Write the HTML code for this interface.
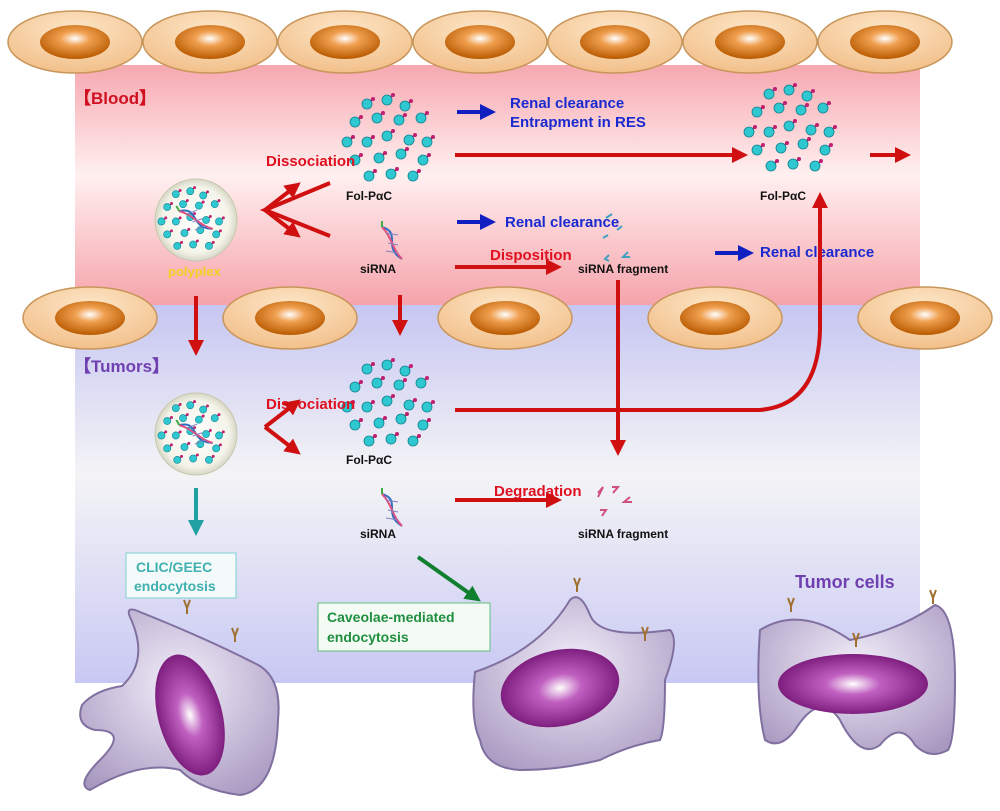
<!DOCTYPE html>
<html><head><meta charset="utf-8"><style>
html,body{margin:0;padding:0;background:#fff}
svg{display:block}
text{font-family:"Liberation Sans",Arial,sans-serif;font-weight:bold}
</style></head><body>
<svg width="1000" height="811" viewBox="0 0 1000 811" xmlns="http://www.w3.org/2000/svg">
<defs>
<linearGradient id="blood" x1="0" y1="0" x2="0" y2="1">
<stop offset="0" stop-color="#f6a8b0"/><stop offset="0.45" stop-color="#fff0f0"/><stop offset="1" stop-color="#f5a0a8"/></linearGradient>
<linearGradient id="tum" x1="0" y1="0" x2="0" y2="1">
<stop offset="0" stop-color="#c6c6f2"/><stop offset="0.45" stop-color="#f4f4f6"/><stop offset="1" stop-color="#c8c8f4"/></linearGradient>
<radialGradient id="nuc" cx="0.5" cy="0.4" r="0.6"><stop offset="0" stop-color="#fff"/><stop offset="0.35" stop-color="#f0a050"/><stop offset="1" stop-color="#b85a00"/></radialGradient>
<radialGradient id="cellb" cx="0.5" cy="0.3" r="0.7"><stop offset="0" stop-color="#fde6c8"/><stop offset="1" stop-color="#f2c08a"/></radialGradient>
<radialGradient id="pn" cx="0.5" cy="0.5" r="0.6"><stop offset="0" stop-color="#fff"/><stop offset="0.3" stop-color="#c060c0"/><stop offset="1" stop-color="#6a0a6a"/></radialGradient>
<radialGradient id="tc" cx="0.5" cy="0.4" r="0.7"><stop offset="0" stop-color="#f2eefa"/><stop offset="1" stop-color="#a898c0"/></radialGradient>
<radialGradient id="pp" cx="0.5" cy="0.5" r="0.5"><stop offset="0" stop-color="#fff"/><stop offset="0.8" stop-color="#f4f4ea"/><stop offset="1" stop-color="#d8d8c8"/></radialGradient>
<g id="cellU"><ellipse cx="0" cy="0" rx="67" ry="31" fill="url(#cellb)" stroke="#c8955a" stroke-width="1.5"/><ellipse cx="0" cy="0" rx="35" ry="17" fill="url(#nuc)"/></g>
<g id="pt"><line x1="0" y1="0" x2="6" y2="-5" stroke="#b02060" stroke-width="2"/><circle cx="6" cy="-5" r="2" fill="#c02070"/><circle cx="0" cy="0" r="5" fill="#30c8d0" stroke="#108090" stroke-width="0.8"/></g>
<g id="cl">
<use href="#pt" x="-28" y="-36"/><use href="#pt" x="-8" y="-40"/><use href="#pt" x="10" y="-34"/><use href="#pt" x="-40" y="-18"/>
<use href="#pt" x="-18" y="-22"/><use href="#pt" x="4" y="-20"/><use href="#pt" x="26" y="-22"/><use href="#pt" x="-48" y="2"/>
<use href="#pt" x="-28" y="2"/><use href="#pt" x="-8" y="-4"/><use href="#pt" x="14" y="0"/><use href="#pt" x="32" y="2"/>
<use href="#pt" x="-40" y="20"/><use href="#pt" x="-16" y="18"/><use href="#pt" x="6" y="14"/><use href="#pt" x="28" y="20"/>
<use href="#pt" x="-26" y="36"/><use href="#pt" x="-4" y="34"/><use href="#pt" x="18" y="36"/>
</g>
<g id="dna"><path d="M-10,-16 C10,-10 -10,4 10,16" stroke="#3070c0" stroke-width="2" fill="none"/><path d="M-10,-16 C0,-6 0,6 10,16" stroke="#e05080" stroke-width="2" fill="none"/><path d="M-6,-10 L6,-8 M-4,0 L6,2 M-6,8 L6,10" stroke="#8080c0" stroke-width="1"/><line x1="-10" y1="-16" x2="-10" y2="-22" stroke="#4a4" stroke-width="2"/></g>
<g id="poly"><circle r="41" fill="url(#pp)" stroke="#c8c8b0"/>
<g transform="scale(0.72)"><use href="#cl"/></g><use href="#dna" transform="rotate(-30)"/></g>
<marker id="ar" markerWidth="4" markerHeight="4" refX="2.5" refY="2" orient="auto" markerUnits="strokeWidth"><path d="M0,0 L4,2 L0,4 z" fill="#d01010"/></marker>
<marker id="ab" markerWidth="4" markerHeight="4" refX="2.5" refY="2" orient="auto" markerUnits="strokeWidth"><path d="M0,0 L4,2 L0,4 z" fill="#1020c0"/></marker>
<marker id="at" markerWidth="4" markerHeight="4" refX="2.5" refY="2" orient="auto" markerUnits="strokeWidth"><path d="M0,0 L4,2 L0,4 z" fill="#20a0a0"/></marker>
<marker id="ag" markerWidth="4" markerHeight="4" refX="2.5" refY="2" orient="auto" markerUnits="strokeWidth"><path d="M0,0 L4,2 L0,4 z" fill="#108030"/></marker>
</defs>

<rect x="75" y="65" width="845" height="245" fill="url(#blood)"/>
<rect x="75" y="305" width="845" height="378" fill="url(#tum)"/>

<!-- top cells -->
<use href="#cellU" x="75" y="42"/><use href="#cellU" x="210" y="42"/><use href="#cellU" x="345" y="42"/><use href="#cellU" x="480" y="42"/><use href="#cellU" x="615" y="42"/><use href="#cellU" x="750" y="42"/><use href="#cellU" x="885" y="42"/>
<!-- middle cells -->
<use href="#cellU" x="90" y="318"/><use href="#cellU" x="290" y="318"/><use href="#cellU" x="505" y="318"/><use href="#cellU" x="715" y="318"/><use href="#cellU" x="925" y="318"/>

<text x="74" y="104" font-size="17" fill="#d01020">【Blood】</text>
<text x="74" y="372" font-size="17" fill="#7040b0">【Tumors】</text>

<use href="#poly" x="196" y="220"/>
<text x="168" y="276" font-size="13" fill="#f0d020">polyplex</text>
<use href="#poly" x="196" y="434"/>

<use href="#cl" x="395" y="140"/>
<use href="#cl" x="797" y="130"/>
<use href="#cl" x="395" y="405"/>
<use href="#dna" x="392" y="243"/>
<use href="#dna" x="392" y="510"/>

<g font-size="12" fill="#111">
<text x="346" y="200">Fol-PαC</text><text x="360" y="273">siRNA</text><text x="578" y="273">siRNA fragment</text>
<text x="760" y="200">Fol-PαC</text><text x="346" y="464">Fol-PαC</text><text x="360" y="538">siRNA</text><text x="578" y="538">siRNA fragment</text>
</g>
<g stroke-width="2" fill="none">
<path d="M606,218 l6,-4 M608,235 l-5,3 M617,230 l5,-4 M609,255 l-4,4 l4,2 M628,252 l-5,5 l7,0" stroke="#40a0c0"/>
<path d="M598,493 l5,-6 l-5,10 M612,487 l6,0 l-5,6 M600,510 l6,0 l-4,6 M630,497 l-6,5 l8,0" stroke="#d05080"/>
</g>

<g font-size="15" fill="#e01020">
<text x="266" y="166">Dissociation</text><text x="266" y="409">Dissociation</text>
<text x="490" y="260">Disposition</text><text x="494" y="496">Degradation</text>
</g>
<g font-size="15" fill="#1a2ad0">
<text x="510" y="108">Renal clearance</text><text x="510" y="127">Entrapment in RES</text>
<text x="505" y="227">Renal clearance</text><text x="760" y="257">Renal clearance</text>
</g>

<g stroke="#d01010" stroke-width="4" fill="none" marker-end="url(#ar)">
<path d="M330,183 L265,210 L330,236" marker-end="none"/>
<line x1="265" y1="210" x2="296" y2="186"/><line x1="265" y1="210" x2="296" y2="234"/>
<line x1="265" y1="427" x2="296" y2="403"/><line x1="265" y1="427" x2="296" y2="451"/>
<line x1="455" y1="155" x2="742" y2="155"/>
<line x1="870" y1="155" x2="905" y2="155"/>
<line x1="455" y1="267" x2="556" y2="267"/>
<line x1="196" y1="296" x2="196" y2="350"/>
<line x1="400" y1="295" x2="400" y2="330"/>
<line x1="618" y1="280" x2="618" y2="450"/>
<path d="M455,410 L760,410 Q818,405 820,330 L820,198"/>
<line x1="455" y1="500" x2="556" y2="500"/>
</g>
<path d="M330,183 L265,210 L330,236" stroke="none" fill="none"/>
<g stroke="#1020c0" stroke-width="4" marker-end="url(#ab)">
<line x1="457" y1="112" x2="490" y2="112"/><line x1="457" y1="222" x2="490" y2="222"/><line x1="715" y1="253" x2="748" y2="253"/>
</g>
<line x1="196" y1="488" x2="196" y2="530" stroke="#20a0a0" stroke-width="4" marker-end="url(#at)"/>
<line x1="418" y1="557" x2="476" y2="598" stroke="#108030" stroke-width="4" marker-end="url(#ag)"/>

<rect x="126" y="553" width="110" height="45" fill="#f4fafa" stroke="#80d0d0"/>
<text x="136" y="572" font-size="14" fill="#40b0b0">CLIC/GEEC</text>
<text x="134" y="591" font-size="14" fill="#40b0b0">endocytosis</text>
<rect x="318" y="603" width="172" height="48" fill="#f4faf4" stroke="#60c080"/>
<text x="327" y="622" font-size="14" fill="#209040">Caveolae-mediated</text>
<text x="327" y="642" font-size="14" fill="#209040">endocytosis</text>
<text x="795" y="588" font-size="18" fill="#7040b0">Tumor cells</text>

<!-- tumor cells -->
<path d="M122,686 Q150,660 130,617 Q125,605 140,612 Q210,640 260,666 Q282,680 278,720 Q276,790 240,795 Q200,790 180,770 Q140,760 90,790 Q75,785 100,760 Q130,730 95,730 Q75,725 82,705 Q95,690 122,686 Z" fill="url(#tc)" stroke="#8070a0" stroke-width="2"/>
<ellipse cx="190" cy="715" rx="32" ry="62" transform="rotate(-15 190 715)" fill="url(#pn)"/>
<path d="M475,672 Q540,650 570,600 Q580,590 590,615 Q600,640 670,630 Q680,640 665,680 Q665,730 660,740 Q630,745 600,760 Q560,770 520,770 Q485,768 480,740 Q470,720 475,672 Z" fill="url(#tc)" stroke="#8070a0" stroke-width="2"/>
<ellipse cx="560" cy="688" rx="60" ry="38" transform="rotate(-12 560 688)" fill="url(#pn)"/>
<path d="M760,630 Q800,605 850,640 Q900,630 935,605 Q955,610 955,680 Q955,740 948,750 Q930,760 915,745 Q900,720 880,745 Q860,760 840,720 Q820,690 795,730 Q780,750 765,740 Q755,700 760,630 Z" fill="url(#tc)" stroke="#8070a0" stroke-width="2"/>
<ellipse cx="853" cy="684" rx="75" ry="30" fill="url(#pn)"/>
<g stroke="#a07030" stroke-width="2" fill="none">
<path d="M184,600 l3,8 l3,-8 M187,608 v6"/><path d="M232,628 l3,8 l3,-8 M235,636 v6"/>
<path d="M574,578 l3,8 l3,-8 M577,586 v6"/><path d="M642,627 l3,8 l3,-8 M645,635 v6"/>
<path d="M788,598 l3,8 l3,-8 M791,606 v6"/><path d="M853,633 l3,8 l3,-8 M856,641 v6"/><path d="M930,590 l3,8 l3,-8 M933,598 v6"/>
</g>
</svg>
</body></html>
